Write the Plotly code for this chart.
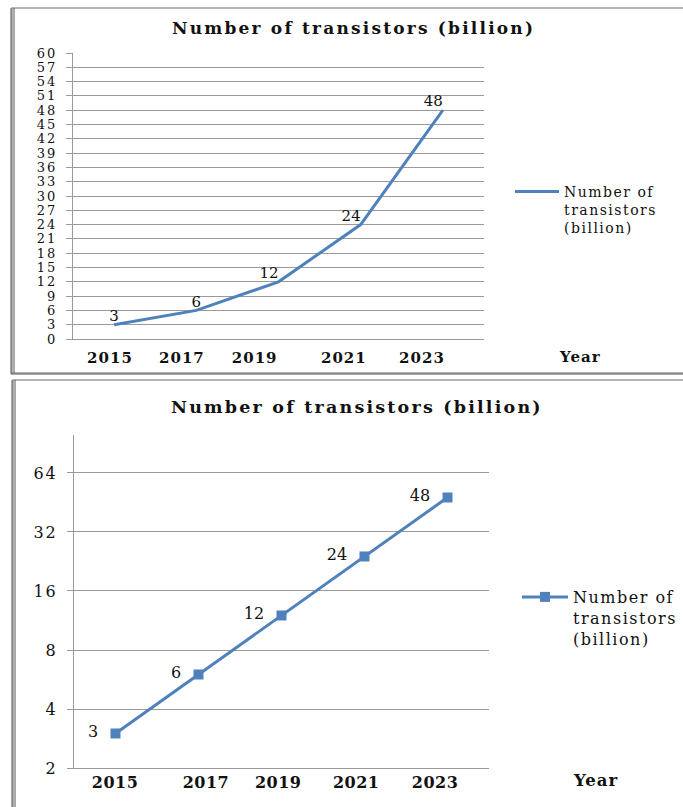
import math
import plotly.graph_objects as go

# ---- data ----
years = [2015, 2017, 2019, 2021, 2023]
transistors = [3, 6, 12, 24, 48]
x_tick_labels = ["2015", "2017", "2019", "2021", "2023"]
top_y_ticks = list(range(0, 61, 3))
bottom_y_ticks = [2, 4, 8, 16, 32, 64]
title_text = "Number of transistors (billion)"
series_lines = ["Number of", "transistors", "(billion)"]
x_axis_name = "Year"

# ---- layout helpers (positions, styles) ----
W, H = 683, 807
def px(x):
    return x / W
def py(y):
    return 1 - y / H

def spaced(t, ls):
    return '<span style="letter-spacing:%spx">%s</span>' % (ls, t)

def spaced_lines(lines, ls):
    return "<br>".join(spaced(l, ls) for l in lines)

BLUE = "#4F81BD"
GRID = "#9a9a9a"
FONT = "DejaVu Serif"
TXT = "#111111"

# tick label positions (as they appear in the reference, slightly offset from data)
top_tick_pos = [2014.90, 2016.65, 2018.42, 2020.59, 2022.49]
bot_tick_pos = [2014.99, 2017.18, 2018.92, 2020.80, 2022.70]

fig = go.Figure()

fig.add_trace(go.Scatter(
    x=years, y=transistors, mode="lines+text",
    text=[str(v) for v in transistors],
    textposition=["top center", "top center", "top left", "top left", "top left"],
    textfont=dict(family=FONT, size=15, color=TXT),
    line=dict(color=BLUE, width=3),
    name=spaced_lines(series_lines, 1.5), xaxis="x", yaxis="y", legend="legend",
    cliponaxis=False, hoverinfo="skip",
))

fig.add_trace(go.Scatter(
    x=years, y=transistors, mode="lines+markers+text",
    text=[str(v) + "  " for v in transistors],
    textposition="middle left",
    textfont=dict(family=FONT, size=16, color=TXT),
    marker=dict(symbol="square", size=10, color=BLUE),
    line=dict(color=BLUE, width=3),
    name=spaced_lines(series_lines, 1.5), xaxis="x2", yaxis="y2", legend="legend2",
    cliponaxis=False, hoverinfo="skip",
))

axis_common = dict(showgrid=False, zeroline=False, showline=True, linecolor=GRID, linewidth=1,
                   ticks="", tickmode="array", automargin=False)
yaxis_common = dict(showgrid=True, gridcolor=GRID, gridwidth=1, zeroline=False, showline=True,
                    linecolor=GRID, linewidth=1, ticks="outside", ticklen=6, tickcolor=GRID,
                    tickmode="array", automargin=False)

fig.update_layout(
    width=W, height=H,
    autosize=False,
    margin=dict(l=0, r=0, t=0, b=0, pad=0, autoexpand=False),
    paper_bgcolor="white", plot_bgcolor="white",
    font=dict(family=FONT, color=TXT),
    xaxis=dict(domain=[px(73), px(484)], range=[2014, 2024], anchor="y",
               tickvals=top_tick_pos, ticktext=[spaced(t, 1) for t in x_tick_labels],
               tickfont=dict(family=FONT, size=15, weight="bold", color=TXT),
               ticklabelstandoff=5, **axis_common),
    yaxis=dict(domain=[py(339), py(53)], range=[0, 60], anchor="x",
               tickvals=top_y_ticks, ticktext=[spaced(str(v), 2) for v in top_y_ticks],
               tickfont=dict(family=FONT, size=13, color=TXT),
               ticklabelstandoff=6, **yaxis_common),
    xaxis2=dict(domain=[px(74), px(489)], range=[2014, 2024], anchor="y2",
                tickvals=bot_tick_pos, ticktext=[spaced(t, 0.5) for t in x_tick_labels],
                tickfont=dict(family=FONT, size=16, weight="bold", color=TXT),
                ticklabelstandoff=0, **axis_common),
    yaxis2=dict(domain=[py(768), py(435)], type="log",
                range=[math.log10(2), math.log10(100)], anchor="x2",
                tickvals=bottom_y_ticks, ticktext=[spaced(str(v), 2) for v in bottom_y_ticks],
                tickfont=dict(family=FONT, size=16, color=TXT),
                ticklabelstandoff=6, **yaxis_common),
    legend=dict(x=px(510), y=py(176), xanchor="left", yanchor="top",
                font=dict(family=FONT, size=14, color=TXT), valign="top",
                bgcolor="rgba(0,0,0,0)", itemwidth=44, tracegroupgap=0),
    legend2=dict(x=px(517), y=py(580), xanchor="left", yanchor="top",
                 font=dict(family=FONT, size=16, color=TXT), valign="top",
                 bgcolor="rgba(0,0,0,0)", itemwidth=46, tracegroupgap=0),
    showlegend=True,
)

def title_html(t):
    return "<b>" + spaced(t, 2.2) + "</b>"

annotations = [
    dict(text=title_html(title_text), x=px(353), y=py(28), xref="paper", yref="paper",
         showarrow=False, font=dict(family=FONT, size=17, color=TXT), xanchor="center", yanchor="middle"),
    dict(text=title_html(title_text), x=px(357), y=py(407), xref="paper", yref="paper",
         showarrow=False, font=dict(family=FONT, size=17.5, color=TXT), xanchor="center", yanchor="middle"),
    dict(text="<b>" + spaced(x_axis_name, 1) + "</b>", x=px(580), y=py(357), xref="paper", yref="paper",
         showarrow=False, font=dict(family=FONT, size=15, color=TXT), xanchor="center", yanchor="middle"),
    dict(text="<b>" + spaced(x_axis_name, 1) + "</b>", x=px(595), y=py(780), xref="paper", yref="paper",
         showarrow=False, font=dict(family=FONT, size=16.5, color=TXT), xanchor="center", yanchor="middle"),
]
fig.update_layout(annotations=annotations)

FRAME = "#9c9c9c"
DARK = "#555555"
shapes = [
    # top chart frame
    dict(type="rect", xref="paper", yref="paper", x0=px(12), x1=px(700), y0=py(373), y1=py(8),
         line=dict(color=FRAME, width=1.5), fillcolor="rgba(0,0,0,0)"),
    dict(type="line", xref="paper", yref="paper", x0=px(11), x1=px(11), y0=py(374), y1=py(8),
         line=dict(color=DARK, width=1)),
    dict(type="line", xref="paper", yref="paper", x0=px(14), x1=px(14), y0=py(373), y1=py(8),
         line=dict(color=DARK, width=1)),
    dict(type="line", xref="paper", yref="paper", x0=px(11), x1=px(700), y0=py(374), y1=py(374),
         line=dict(color=DARK, width=1)),
    # bottom chart frame
    dict(type="rect", xref="paper", yref="paper", x0=px(13), x1=px(700), y0=py(820), y1=py(380),
         line=dict(color=FRAME, width=1.5), fillcolor="rgba(0,0,0,0)"),
    dict(type="line", xref="paper", yref="paper", x0=px(12), x1=px(12), y0=py(820), y1=py(380),
         line=dict(color=DARK, width=1)),
    dict(type="line", xref="paper", yref="paper", x0=px(15), x1=px(15), y0=py(820), y1=py(380),
         line=dict(color=DARK, width=1)),
]
fig.update_layout(shapes=shapes)

fig.write_html(
    "out.html",
    config={"displayModeBar": False},
    post_script="document.body.style.margin='0';document.body.style.overflow='hidden';",
)
